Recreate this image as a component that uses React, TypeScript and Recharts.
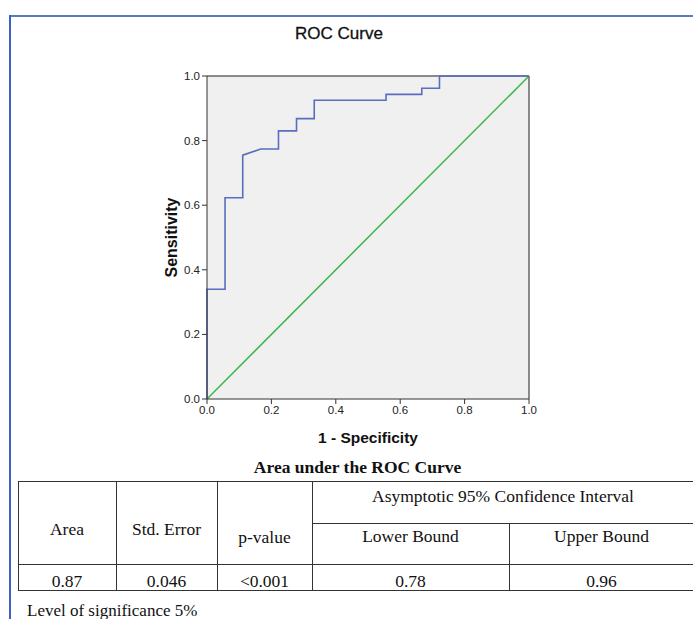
import React from "react";
import {
  ComposedChart,
  Line,
  XAxis,
  YAxis,
  CartesianGrid,
  ReferenceLine,
  Label,
} from "recharts";

// ROC curve points (1 - specificity, sensitivity)
const rocFpr = [0, 0, 0.056, 0.056, 0.111, 0.111, 0.167, 0.222, 0.222, 0.278, 0.278, 0.333, 0.333, 0.556, 0.556, 0.667, 0.667, 0.722, 0.722, 1];
const rocTpr = [0, 0.34, 0.34, 0.623, 0.623, 0.755, 0.774, 0.774, 0.83, 0.83, 0.868, 0.868, 0.925, 0.925, 0.943, 0.943, 0.962, 0.962, 1, 1];
const refFpr = [0, 1];
const refTpr = [0, 1];
const axisTicks = [0, 0.2, 0.4, 0.6, 0.8, 1];

const tableHead = ["Area", "Std. Error", "p-value"];
const ciHead = "Asymptotic 95% Confidence Interval";
const ciSub = ["Lower Bound", "Upper Bound"];
const tableRow = ["0.87", "0.046", "<0.001", "0.78", "0.96"];

const rocData = rocFpr.map((x, i) => ({ x, y: rocTpr[i] }));
const refData = refFpr.map((x, i) => ({ x, y: refTpr[i] }));

const serif = "'Liberation Serif', 'Times New Roman', serif";
const sans = "'Liberation Sans', Arial, sans-serif";

const colX = [18, 116, 217, 312, 509, 694];
const rowY = [481, 523, 564, 590];

const hLine = (x1: number, x2: number, y: number, key: string) => (
  <div key={key} style={{ position: "absolute", left: x1, top: y, width: x2 - x1 + 1, height: 1, background: "#333" }} />
);
const vLine = (x: number, y1: number, y2: number, key: string) => (
  <div key={key} style={{ position: "absolute", left: x, top: y1, width: 1, height: y2 - y1 + 1, background: "#333" }} />
);

const cellText = (text: string, x1: number, x2: number, cy: number, key: string) => (
  <div
    key={key}
    style={{
      position: "absolute",
      left: x1,
      width: x2 - x1,
      top: cy - 10,
      height: 22,
      lineHeight: "22px",
      textAlign: "center",
      fontFamily: serif,
      fontSize: 17.5,
      color: "#111",
      whiteSpace: "nowrap",
    }}
  >
    {text}
  </div>
);

export default function App() {
  const tick = { fontSize: 11.5, fill: "#222", fontFamily: sans };
  return (
    <div style={{ position: "absolute", left: 0, top: 0, width: 693, height: 619, background: "#fff", overflow: "hidden" }}>
      {/* frame */}
      <div style={{ position: "absolute", left: 10, top: 15, width: 700, height: 2, background: "#5a7bbf" }} />
      <div style={{ position: "absolute", left: 9, top: 15, width: 2, height: 620, background: "#3b62c0" }} />

      <div
        style={{
          position: "absolute",
          left: 0,
          width: 678,
          top: 24,
          textAlign: "center",
          fontFamily: sans,
          fontSize: 17,
          color: "#111",
          WebkitTextStroke: "0.3px #111",
        }}
      >
        ROC Curve
      </div>

      <div style={{ position: "absolute", top: 0, left: 0 }}>
        <ComposedChart width={693} height={460} margin={{ top: 76, right: 164, bottom: 16, left: 147 }}>
          <CartesianGrid fill="#f0f0f0" horizontal={false} vertical={false} />
          <XAxis
            dataKey="x"
            type="number"
            domain={[0, 1]}
            ticks={axisTicks}
            tickFormatter={(v: number) => v.toFixed(1)}
            tick={tick}
            tickSize={5}
            height={45}
            stroke="#333"
            allowDuplicatedCategory={false}
          >
            <Label
              value="1 - Specificity"
              position="insideBottom"
              offset={1}
              style={{ fontSize: 15.5, fontWeight: "bold", fill: "#111", fontFamily: sans }}
            />
          </XAxis>
          <YAxis
            dataKey="y"
            type="number"
            domain={[0, 1]}
            ticks={axisTicks}
            tickFormatter={(v: number) => v.toFixed(1)}
            tick={tick}
            tickSize={5}
            width={60}
            stroke="#333"
          >
            <Label
              value="Sensitivity"
              angle={-90}
              position="insideLeft"
              offset={24}
              style={{ fontSize: 16, fontWeight: "bold", fill: "#111", fontFamily: sans, textAnchor: "middle" }}
            />
          </YAxis>
          <ReferenceLine y={1} stroke="#666" strokeWidth={1.5} />
          <ReferenceLine x={1} stroke="#666" strokeWidth={1.5} />
          <Line
            data={refData}
            dataKey="y"
            type="linear"
            stroke="#3db54a"
            strokeWidth={1.5}
            dot={false}
            activeDot={false}
            isAnimationActive={false}
          />
          <Line
            data={rocData}
            dataKey="y"
            type="linear"
            stroke="#5a6dbf"
            strokeWidth={1.6}
            dot={false}
            activeDot={false}
            isAnimationActive={false}
          />
        </ComposedChart>
      </div>

      {/* AUC table */}
      <div style={{ position: "absolute", left: 0, width: 715, top: 457, textAlign: "center", fontFamily: serif, fontSize: 17.5, fontWeight: "bold", color: "#111" }}>
        Area under the ROC Curve
      </div>
      {hLine(colX[0], colX[5], rowY[0], "h0")}
      {hLine(colX[3], colX[5], rowY[1], "h1")}
      {hLine(colX[0], colX[5], rowY[2], "h2")}
      {hLine(colX[0], colX[5], rowY[3], "h3")}
      {[0, 1, 2, 3, 5].map((i) => vLine(colX[i], rowY[0], rowY[3], "v" + i))}
      {vLine(colX[4], rowY[1], rowY[3], "v4")}
      {cellText(tableHead[0], colX[0], colX[1], 528, "t0")}
      {cellText(tableHead[1], colX[1], colX[2], 528, "t1")}
      {cellText(tableHead[2], colX[2], colX[3], 536, "t2")}
      {cellText(ciHead, colX[3], colX[5], 495, "t3")}
      {cellText(ciSub[0], colX[3], colX[4], 535, "t4")}
      {cellText(ciSub[1], colX[4], colX[5], 535, "t5")}
      {tableRow.map((v, i) => cellText(v, colX[i], colX[i + 1], 580, "r" + i))}
      <div style={{ position: "absolute", left: 27, top: 601, fontFamily: serif, fontSize: 17, color: "#111", whiteSpace: "nowrap" }}>
        Level of significance 5%
      </div>
    </div>
  );
}
